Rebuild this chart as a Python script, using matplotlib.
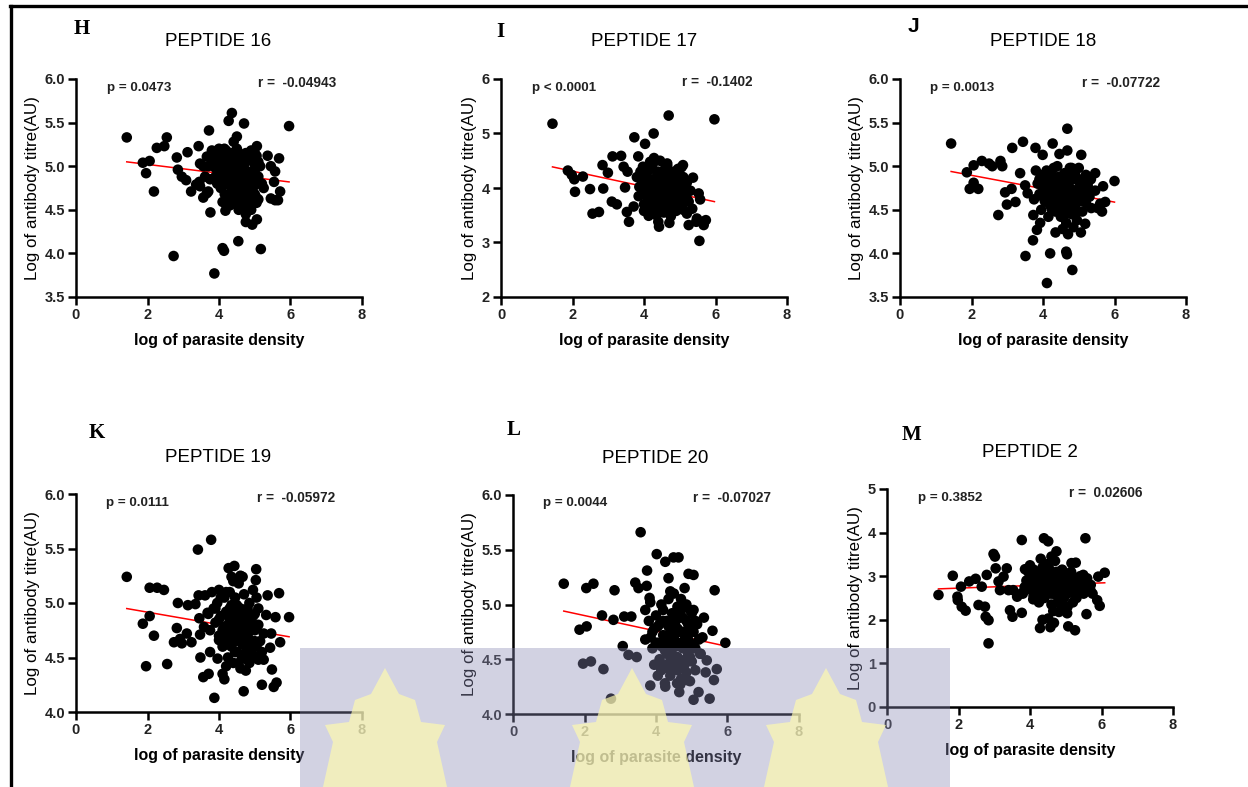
import matplotlib
matplotlib.use('Agg')
import matplotlib.pyplot as plt
from matplotlib.lines import Line2D
from matplotlib.patches import Rectangle, Polygon
import numpy as np

plt.rcParams['font.family'] = ['Liberation Sans', 'DejaVu Sans']

# ---- data: (log parasite density, log antibody titre) ----
pep16 = [(1.42,5.33),(1.87,5.04),(2.06,5.06),(1.96,4.92),(2.18,4.71),(2.26,5.21),(2.47,5.23),(2.54,5.33),
         (2.73,3.97),(2.82,5.10),(2.85,4.96),(2.96,4.88),(3.08,4.84),(3.12,5.16),(3.22,4.71),(3.36,4.79),
         (3.45,4.82),(3.47,4.77),(3.56,4.64),(3.66,4.69),(3.70,4.71),(3.72,5.41),(3.76,4.47),(3.87,3.77),
         (3.43,5.23),(3.47,5.03),(3.56,5.0),(3.61,4.88),(3.66,5.11),(4.27,5.52),(4.36,5.61),(4.70,5.49),
         (4.50,5.34),(4.41,5.28),(4.10,4.59),(4.18,4.49),(4.10,4.06),(4.14,4.03),(4.54,4.14),(5.17,4.05),
         (5.06,4.39),(4.93,4.33),(4.75,4.36),(4.16,4.68),(4.38,4.57),(5.96,5.46),(5.68,5.09),(5.36,5.12),
         (5.45,5.0),(5.57,4.94),(5.54,4.82),(5.71,4.71),(5.45,4.63),(5.57,4.61),(5.65,4.61),(5.25,4.75),
         (5.06,5.23),(5.03,4.65),(4.95,4.61),
         (3.8,5.18),(3.85,5.05),(3.9,4.98),(3.95,5.12),(4.0,5.2),(4.05,5.02),(4.0,4.9),(4.1,5.1),(4.15,4.95),
         (4.2,5.18),(4.2,4.85),(4.25,5.05),(4.3,4.78),(4.3,4.95),(4.35,5.15),(4.4,4.88),(4.4,4.7),(4.45,5.0),
         (4.5,5.2),(4.5,4.82),(4.5,4.62),(4.55,4.95),(4.6,5.1),(4.6,4.75),(4.65,4.88),(4.65,4.55),(4.7,5.02),
         (4.7,4.68),(4.75,5.15),(4.75,4.8),(4.8,4.92),(4.8,4.6),(4.85,5.08),(4.85,4.72),(4.9,4.85),(4.9,5.18),
         (4.95,4.65),(5.0,4.95),(5.0,4.78),(5.05,5.12),(5.1,4.88),(5.1,4.62),(5.15,5.0),(5.2,4.8),(3.7,5.0),
         (3.75,4.85),(4.05,4.75),(4.25,4.65),(4.55,4.5),(4.75,4.45),(4.6,4.98),(4.35,5.05),(4.15,5.2),
         (3.95,4.8),(4.45,4.75),(4.85,4.55),(5.05,4.58),(4.95,5.05),(4.7,4.9),(4.3,4.55),
         (3.85,5.12),(3.9,4.88),(3.95,5.0),(4.0,5.08),(4.05,4.85),(4.1,4.98),(4.15,4.8),(4.2,5.05),(4.25,4.92),
         (4.3,5.12),(4.35,4.82),(4.4,5.1),(4.45,4.9),(4.5,5.05),(4.55,4.7),(4.55,5.15),(4.6,4.85),(4.65,5.05),
         (4.65,4.7),(4.7,4.8),(4.75,4.95),(4.8,5.1),(4.8,4.75),(4.85,4.9),(4.9,4.7),(4.95,4.95),(5.0,5.15),
         (5.0,4.68),(5.05,4.85),(5.1,5.05),(4.45,4.6),(4.7,4.58),(4.9,4.5),(4.6,4.65),(4.35,4.7)]

pep17 = [(1.44,5.18),(5.97,5.26),(4.69,5.33),(4.27,5.0),(3.73,4.93),(4.03,4.81),(1.87,4.32),(1.98,4.24),
         (2.05,4.16),(2.07,3.93),(2.29,4.21),(2.49,3.98),(2.56,3.53),(2.74,3.56),(2.84,4.42),(2.86,3.99),
         (2.99,4.28),(3.12,4.58),(3.36,4.59),(3.10,3.75),(3.24,3.70),(3.43,4.39),(3.47,4.01),(3.54,4.30),
         (3.58,3.38),(3.52,3.56),(3.71,3.66),(3.84,4.58),(3.87,4.02),(3.97,4.39),(4.0,3.58),(4.13,3.49),
         (4.17,4.48),(4.28,4.55),(4.40,3.38),(4.42,3.29),(4.65,4.45),(4.71,3.36),(5.09,4.42),(5.20,3.53),
         (5.25,3.32),(5.37,4.19),(5.46,3.38),(5.55,3.03),(5.53,3.90),(5.48,3.44),(5.62,3.38),(5.67,3.32),
         (5.73,3.41),(5.57,3.79),
         (3.9,4.3),(3.95,4.1),(4.0,3.95),(4.05,4.22),(4.1,3.8),(4.15,4.05),(4.2,4.35),(4.2,3.7),(4.25,3.92),
         (4.3,4.15),(4.3,3.6),(4.35,3.82),(4.4,4.05),(4.4,4.3),(4.45,3.7),(4.5,3.95),(4.5,4.2),(4.55,3.55),
         (4.55,3.85),(4.6,4.1),(4.6,4.38),(4.65,3.75),(4.65,3.98),(4.7,4.25),(4.7,3.62),(4.75,3.88),(4.8,4.12),
         (4.8,3.7),(4.85,3.95),(4.85,4.3),(4.9,3.8),(4.9,3.58),(4.95,4.05),(5.0,3.9),(5.0,4.22),(5.05,3.7),
         (5.1,4.0),(5.1,3.6),(5.15,3.85),(5.2,4.1),(5.25,3.75),(5.3,3.95),(4.0,3.7),(3.85,3.85),(4.25,4.45),
         (4.45,4.5),(4.95,4.35),(4.35,3.5),(4.75,3.48),(5.35,3.62),(3.8,4.2),(4.15,3.6),(4.6,3.68),(5.05,4.38),
         (4.25,4.05),(4.55,4.02),
         (3.95,3.9),(4.05,4.05),(4.1,4.3),(4.15,3.9),(4.2,4.15),(4.25,3.75),(4.35,4.2),(4.4,3.9),(4.45,4.1),
         (4.5,3.75),(4.55,4.3),(4.6,3.92),(4.65,4.2),(4.7,3.85),(4.75,4.05),(4.75,3.7),(4.8,3.9),(4.85,4.15),
         (4.9,3.95),(4.95,3.75),(5.0,4.05),(5.05,3.85),(5.1,4.2),(5.15,3.95),(5.2,3.8),(4.35,3.65),(4.55,3.65),
         (4.85,3.65),(4.3,3.95),(4.65,4.4)]

pep18 = [(1.43,5.26),(1.87,4.93),(2.06,4.81),(1.95,4.74),(2.19,4.74),(2.06,5.01),(2.29,5.06),(2.49,5.03),
         (2.58,5.0),(2.81,5.06),(2.86,5.0),(2.94,4.70),(3.12,4.74),(2.99,4.56),(3.23,4.59),(2.75,4.44),
         (3.14,5.21),(3.44,5.28),(3.36,4.92),(3.50,4.78),(3.57,4.69),(3.51,3.97),(3.73,4.44),(3.72,4.15),
         (3.83,4.27),(3.92,4.35),(3.79,5.21),(3.99,5.13),(4.27,5.26),(4.46,5.14),(4.68,5.43),(4.68,5.18),
         (4.35,4.24),(4.2,4.0),(4.11,3.66),(4.65,4.02),(4.67,3.99),(4.82,3.81),(5.06,4.24),(5.18,4.34),
         (5.07,5.13),(5.46,4.92),(6.0,4.83),(5.68,4.77),(5.60,4.57),(5.53,4.52),(5.65,4.48),(5.74,4.59),
         (5.34,4.85),(5.46,4.72),
         (3.8,4.95),(3.85,4.8),(3.9,4.68),(3.95,4.88),(4.0,4.75),(4.05,4.6),(4.1,4.95),(4.1,4.82),(4.15,4.7),
         (4.2,4.55),(4.25,4.9),(4.25,4.78),(4.3,4.65),(4.35,4.48),(4.4,4.85),(4.4,5.0),(4.45,4.72),(4.5,4.58),
         (4.5,4.42),(4.55,4.8),(4.6,4.92),(4.6,4.66),(4.65,4.5),(4.65,4.35),(4.7,4.78),(4.75,4.62),(4.75,4.98),
         (4.8,4.45),(4.8,4.85),(4.85,4.7),(4.9,4.55),(4.9,4.9),(4.95,4.38),(5.0,4.75),(5.0,4.98),(5.05,4.6),
         (5.1,4.85),(5.1,4.48),(5.15,4.7),(5.2,4.58),(5.25,4.78),(5.3,4.65),(5.35,4.52),(3.75,4.62),(4.0,4.9),
         (4.3,4.98),(4.55,4.28),(4.7,4.22),(4.85,4.3),(5.2,4.9),(4.45,4.62),(4.2,4.85),(4.95,4.62),(3.95,4.5),
         (4.15,4.42),
         (3.9,4.85),(4.0,4.65),(4.05,4.78),(4.15,4.88),(4.2,4.65),(4.3,4.78),(4.35,4.6),(4.4,4.7),(4.45,4.88),
         (4.5,4.75),(4.55,4.62),(4.6,4.82),(4.65,4.7),(4.7,4.55),(4.7,4.9),(4.75,4.75),(4.8,4.6),(4.85,4.85),
         (4.9,4.72),(4.95,4.85),(5.0,4.62),(5.05,4.8),(5.1,4.68),(5.15,4.85),(5.2,4.72),(4.45,4.5),(4.6,4.45),
         (4.9,4.45),(4.25,4.5),(4.8,4.98)]

pep19 = [(1.42,5.24),(1.87,4.81),(2.06,4.88),(2.18,4.70),(1.96,4.42),(2.06,5.14),(2.27,5.14),(2.46,5.12),
         (2.55,4.44),(2.74,4.64),(2.82,4.77),(2.85,5.0),(2.91,4.67),(2.96,4.63),(3.10,4.72),(3.13,4.98),
         (3.23,4.64),(3.34,4.99),(3.41,5.49),(3.78,5.58),(3.45,4.86),(3.47,4.71),(3.48,4.50),(3.56,4.32),
         (3.71,4.35),(3.87,4.13),(3.75,4.55),(3.58,4.78),(3.68,4.91),(3.43,5.07),(3.61,5.07),(4.0,4.66),
         (3.96,4.49),(4.15,4.30),(4.69,4.19),(5.20,4.25),(5.53,4.23),(5.61,4.27),(5.48,4.39),(5.36,5.07),
         (5.68,5.09),(5.96,4.87),(5.58,4.87),(5.32,4.89),(5.46,4.72),(5.71,4.64),(5.43,4.59),(5.04,5.31),
         (5.03,5.21),(4.27,5.32),(4.43,5.34),(4.35,5.24),(4.66,5.24),
         (3.8,5.1),(3.85,4.95),(3.9,4.82),(3.95,5.0),(4.0,4.7),(4.0,5.12),(4.05,4.88),(4.1,4.6),(4.15,5.05),
         (4.15,4.78),(4.2,4.92),(4.25,4.5),(4.25,4.68),(4.3,5.1),(4.3,4.85),(4.35,4.98),(4.35,4.6),(4.4,4.75),
         (4.4,4.45),(4.45,5.05),(4.45,4.9),(4.5,4.68),(4.5,4.55),(4.55,4.82),(4.55,5.18),(4.6,4.95),(4.6,4.4),
         (4.65,4.62),(4.65,4.75),(4.7,5.08),(4.7,4.5),(4.75,4.88),(4.75,4.38),(4.8,4.7),(4.8,4.58),(4.85,5.0),
         (4.85,4.45),(4.9,4.82),(4.9,4.65),(4.95,4.52),(5.0,4.9),(5.0,4.75),(5.05,4.6),(5.05,5.05),(5.1,4.48),
         (5.1,4.8),(5.15,4.65),(5.2,4.55),(5.25,4.72),(3.7,4.9),(3.75,4.75),(4.1,4.35),(4.6,5.25),(4.4,5.2),
         (4.95,5.12),(4.2,4.42),(5.25,4.48),(4.7,4.85),(4.5,4.98),(4.3,4.72),
         (3.9,4.95),(4.0,4.85),(4.05,5.05),(4.1,4.75),(4.2,4.62),(4.2,5.1),(4.3,4.95),(4.35,4.8),(4.4,4.92),
         (4.45,4.65),(4.5,4.85),(4.55,4.7),(4.6,4.8),(4.65,4.92),(4.65,4.5),(4.7,4.68),(4.75,4.78),(4.8,4.95),
         (4.8,4.48),(4.85,4.62),(4.9,4.75),(4.95,4.88),(5.0,4.65),(5.05,4.78),(5.1,4.95),(4.45,4.55),(4.55,4.45),
         (4.75,4.55),(4.9,4.55),(4.25,4.8)]

pep20 = [(1.42,5.19),(1.86,4.77),(2.06,4.80),(1.96,4.46),(2.18,4.48),(2.05,5.15),(2.25,5.19),(2.49,4.90),
         (2.53,4.41),(2.74,4.14),(2.81,4.86),(2.84,5.13),(3.11,4.89),(3.31,4.89),(3.07,4.62),(3.23,4.54),
         (3.46,4.52),(3.42,5.20),(3.57,5.66),(3.51,5.15),(3.74,5.17),(3.75,5.31),(3.82,5.06),(3.84,5.02),
         (3.70,4.68),(4.02,5.46),(4.26,5.39),(4.49,5.43),(4.63,5.43),(4.35,5.24),(5.05,5.27),(5.64,5.13),
         (5.94,4.65),(5.34,4.88),(5.58,4.76),(5.42,4.49),(5.62,4.31),(5.70,4.41),(5.39,4.38),(5.50,4.14),
         (5.19,4.20),(5.05,4.13),(4.26,4.25),(3.84,4.26),(4.59,4.28),(4.68,4.27),(4.87,4.31),(4.12,4.43),
         (4.38,4.41),(5.23,4.55),(4.91,5.28),
         (3.8,4.85),(3.85,4.7),(3.9,4.6),(3.95,4.78),(4.0,4.9),(4.05,4.65),(4.1,4.5),(4.1,4.82),(4.15,4.4),
         (4.2,4.72),(4.2,4.95),(4.25,4.58),(4.3,4.85),(4.3,4.45),(4.35,5.05),(4.35,4.68),(4.4,4.78),(4.4,4.35),
         (4.45,4.92),(4.45,4.55),(4.5,5.1),(4.5,4.7),(4.55,4.42),(4.55,4.85),(4.6,4.62),(4.6,4.98),(4.65,4.5),
         (4.65,4.75),(4.7,4.32),(4.7,5.05),(4.75,4.88),(4.75,4.6),(4.8,4.45),(4.8,4.72),(4.85,4.38),(4.85,5.0),
         (4.9,4.82),(4.9,4.55),(4.95,4.65),(4.95,4.3),(5.0,4.92),(5.0,4.48),(5.05,4.75),(5.1,4.6),(5.1,4.4),
         (5.15,4.82),(5.2,4.68),(5.25,4.55),(5.3,4.7),(3.7,4.95),(4.05,4.35),(4.25,4.28),(4.65,4.2),(4.8,5.15),
         (4.4,5.12),(4.6,4.52),(4.3,4.62),(5.05,4.95),(3.95,4.45),(4.15,5.0),
         (3.9,4.75),(4.0,4.65),(4.05,4.8),(4.15,4.62),(4.2,4.85),(4.25,4.7),(4.3,4.55),(4.35,4.8),(4.4,4.6),
         (4.45,4.72),(4.5,4.85),(4.5,4.5),(4.55,4.65),(4.6,4.78),(4.65,4.88),(4.7,4.65),(4.75,4.75),(4.75,4.45),
         (4.8,4.6),(4.85,4.85),(4.9,4.68),(4.95,4.52),(5.0,4.78),(5.05,4.62),(5.1,4.85),(4.6,4.4),(4.85,4.5),
         (4.4,4.48),(4.7,4.95),(4.95,4.95)]

pep2 = [(1.44,2.57),(1.84,3.01),(1.97,2.53),(1.98,2.45),(2.07,2.76),(2.09,2.30),(2.20,2.21),(2.30,2.88),
        (2.48,2.94),(2.56,2.34),(2.65,2.76),(2.74,2.30),(2.76,2.07),(2.84,1.99),(2.84,1.46),(2.79,3.03),
        (2.98,3.51),(3.02,3.45),(3.04,3.18),(3.12,2.88),(3.16,2.68),(3.26,2.99),(3.35,3.18),(3.40,2.68),
        (3.44,2.22),(3.51,2.07),(3.53,2.68),(3.64,2.53),(3.77,2.61),(3.77,2.16),(3.77,3.83),(3.86,3.16),
        (4.09,2.47),(4.28,1.81),(4.35,2.0),(4.51,2.03),(4.57,1.83),(4.67,1.93),(4.39,3.87),(4.51,3.80),
        (4.74,3.57),(4.81,2.18),(5.04,2.15),(5.07,1.85),(5.26,1.76),(5.16,3.30),(5.28,3.31),(5.55,3.87),
        (5.58,2.13),(5.88,2.45),(5.95,2.32),(5.91,2.99),(6.09,3.08),(5.69,2.68),(5.49,3.03),
        (3.9,2.9),(3.95,3.1),(4.0,2.7),(4.05,2.95),(4.1,3.15),(4.1,2.55),(4.15,2.82),(4.2,3.05),(4.25,2.65),
        (4.25,2.4),(4.3,2.9),(4.35,3.2),(4.35,2.7),(4.4,2.5),(4.45,3.0),(4.45,2.8),(4.5,3.28),(4.5,2.6),
        (4.55,2.9),(4.6,2.35),(4.6,3.1),(4.65,2.72),(4.7,2.95),(4.7,3.35),(4.75,2.55),(4.75,2.82),(4.8,3.05),
        (4.8,2.4),(4.85,2.68),(4.9,2.9),(4.9,3.15),(4.95,2.5),(5.0,2.78),(5.0,3.0),(5.05,2.3),(5.1,2.62),
        (5.1,2.88),(5.15,3.1),(5.2,2.7),(5.25,2.95),(5.3,2.5),(5.35,2.78),(5.4,3.0),(5.45,2.62),(5.5,2.85),
        (5.55,2.7),(5.6,2.95),(5.7,2.8),(5.75,2.6),(3.8,2.6),(3.85,2.75),(4.0,3.25),(4.3,3.4),(4.6,3.45),
        (4.65,2.2),(4.95,2.25),(5.2,2.4),(4.4,2.95),(4.2,2.75),(4.55,3.0),
        (4.0,2.85),(4.1,2.7),(4.15,2.95),(4.2,2.6),(4.3,2.75),(4.35,2.95),(4.4,2.65),(4.45,2.9),(4.5,2.75),
        (4.55,3.15),(4.6,2.8),(4.65,2.95),(4.7,2.6),(4.75,3.1),(4.8,2.75),(4.85,2.95),(4.9,2.55),(4.95,2.8),
        (5.0,2.6),(5.05,2.95),(5.1,2.75),(5.15,2.85),(5.2,2.95),(5.3,2.8),(5.4,2.7),(5.5,2.6),(4.6,2.6),
        (4.85,2.45),(4.3,3.1),(5.25,2.6)]

titles = ['PEPTIDE 16', 'PEPTIDE 17', 'PEPTIDE 18', 'PEPTIDE 19', 'PEPTIDE 20', 'PEPTIDE 2']
letters = ['H', 'I', 'J', 'K', 'L', 'M']
p_text = ['p = 0.0473', 'p < 0.0001', 'p = 0.0013', 'p = 0.0111', 'p = 0.0044', 'p = 0.3852']
r_text = ['r =  -0.04943', 'r =  -0.1402', 'r =  -0.07722', 'r =  -0.05972', 'r =  -0.07027', 'r =  0.02606']
# regression line: (intercept, slope)
fits = [(5.122, -0.0507), (4.59, -0.1407), (5.049, -0.0768), (5.03, -0.057), (5.04, -0.0705), (2.666, 0.030)]
y_ranges = [(3.5, 6.0), (2, 6), (3.5, 6.0), (4.0, 6.0), (4.0, 6.0), (0, 5)]
y_steps = [0.5, 1, 0.5, 0.5, 0.5, 1]
y_fmt = ['%.1f', '%d', '%.1f', '%.1f', '%.1f', '%d']
x_ticks = [0, 2, 4, 6, 8]

datasets = [pep16, pep17, pep18, pep19, pep20, pep2]

# ---- layout in pixels ----
W, H = 1248, 787
fig = plt.figure(figsize=(W / 100, H / 100), dpi=100)

def fx(x):
    return x / W

def fy(y):
    return 1 - y / H

# axes boxes: left, top, right, bottom
boxes = [(76, 79, 362, 297), (501, 79, 787, 297), (900, 79, 1186, 297),
         (76, 494, 362, 712), (513, 495, 799, 714), (887, 489, 1173, 707)]
title_pos = [(218, 42), (644, 42), (1043, 42), (218, 457), (655, 458), (1030, 452)]
letter_pos = [(82, 29), (500, 32), (913, 26), (97, 433), (514, 430), (912, 435)]
p_pos = [(107, 88), (532, 88), (930, 88), (106, 503), (543, 503), (918, 498)]
r_pos = [(258, 83), (682, 82), (1082, 83), (257, 498), (693, 498), (1069, 493)]

for i in range(6):
    l, t, r, b = boxes[i]
    ax = fig.add_axes([fx(l), fy(b), (r - l) / W, (b - t) / H])
    pts = np.array(datasets[i])
    ax.scatter(pts[:, 0], pts[:, 1], s=58, color='black', edgecolors='none', zorder=3, clip_on=False)

    a, k = fits[i]
    xs = np.array([pts[:, 0].min(), pts[:, 0].max()])
    ax.plot(xs, a + k * xs, color='red', lw=1.1, zorder=2)

    lo, hi = y_ranges[i]
    ax.set_xlim(0, 8)
    ax.set_ylim(lo, hi)
    ax.set_xticks(x_ticks)
    ax.set_xticklabels([str(v) for v in x_ticks])
    yt = np.arange(lo, hi + 1e-9, y_steps[i])
    ax.set_yticks(yt)
    ax.set_yticklabels([y_fmt[i] % v for v in yt])

    for s in ['top', 'right']:
        ax.spines[s].set_visible(False)
    for s in ['left', 'bottom']:
        ax.spines[s].set_linewidth(1.8)
    ax.tick_params(direction='out', length=5.5, width=1.8, pad=2.5, labelsize=10.5)
    for lab in ax.get_xticklabels() + ax.get_yticklabels():
        lab.set_fontweight('bold')
        lab.set_color('#222222')

    ax.set_xlabel('log of parasite density', fontsize=11.5, fontweight='bold', labelpad=8)
    ax.set_ylabel('Log of antibody titre(AU)', fontsize=12.2, labelpad=3)

    fig.text(fx(title_pos[i][0]), fy(title_pos[i][1]), titles[i], fontsize=13.5,
             ha='center', va='center')
    if letters[i] == 'J':
        fig.text(fx(letter_pos[i][0]), fy(letter_pos[i][1]), 'J', fontsize=15,
                 fontweight='bold', ha='center', va='center')
    else:
        fig.text(fx(letter_pos[i][0]), fy(letter_pos[i][1]), letters[i], fontsize=15,
                 fontweight='bold', family='Liberation Serif', ha='center', va='center')
    fig.text(fx(p_pos[i][0]), fy(p_pos[i][1]), p_text[i], fontsize=9.6, fontweight='bold',
             ha='left', va='center', color='#222222')
    fig.text(fx(r_pos[i][0]), fy(r_pos[i][1]), r_text[i], fontsize=9.8, fontweight='bold',
             ha='left', va='center', color='#222222')

# page frame (top and left border lines)
fig.add_artist(Line2D([fx(10), 1], [fy(6), fy(6)], color='black', lw=2.4))
fig.add_artist(Line2D([fx(11), fx(11)], [fy(6), 0], color='black', lw=2.4))

# faint watermark band over the bottom of the page, with pale leaf shapes
fig.add_artist(Rectangle((fx(300), 0), (950 - 300) / W, (787 - 648) / H,
                         transform=fig.transFigure, facecolor='#8989b4', alpha=0.38,
                         edgecolor='none', zorder=10))
leaf = [(-62, 787), (-52, 742), (-60, 725), (-36, 722), (-30, 700), (-14, 694), (0, 668),
        (14, 694), (30, 700), (36, 722), (60, 725), (52, 742), (62, 787)]
for cx in [385, 632, 826]:
    fig.add_artist(Polygon([(fx(cx + dx), fy(dy)) for dx, dy in leaf], closed=True,
                           transform=fig.transFigure, facecolor='#fdf9b0', alpha=0.7,
                           edgecolor='none', zorder=11))

fig.savefig('out.png', dpi=100)
